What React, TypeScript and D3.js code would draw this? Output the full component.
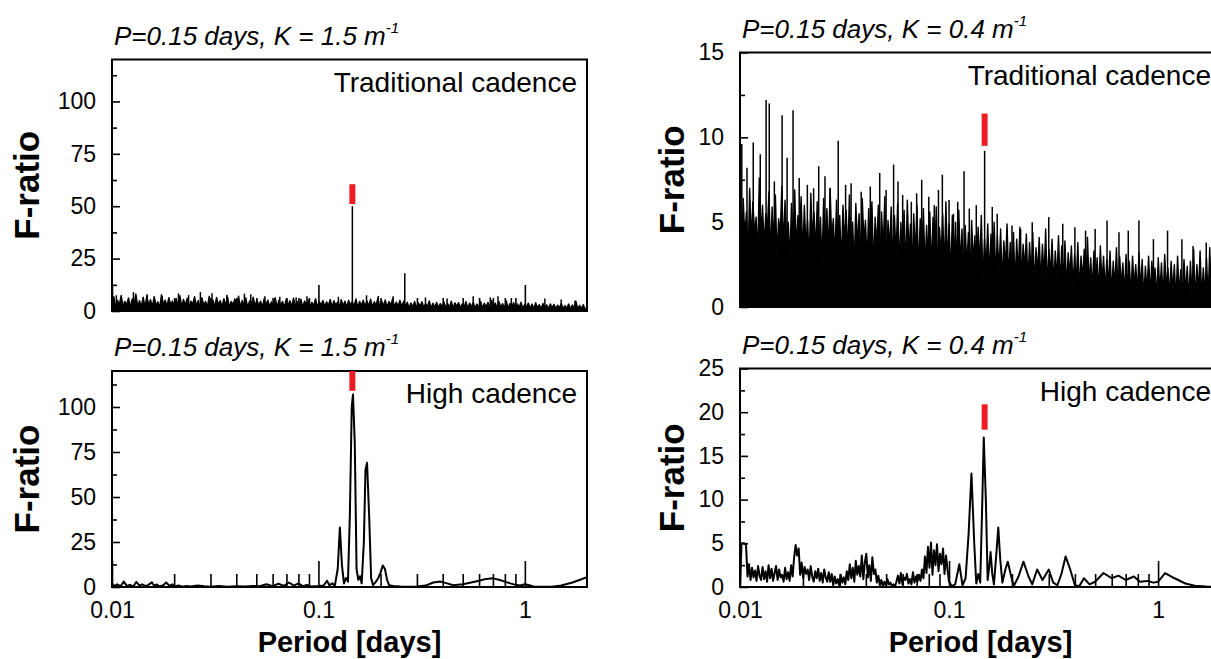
import React, { useEffect, useRef } from 'react';
import * as d3 from 'd3';

// period axis shared by all four panels
const PERIOD_DOMAIN: [number, number] = [0.01, 2];
const X_MAJOR = [0.01, 0.1, 1];
const X_MINOR = [0.02, 0.03, 0.04, 0.05, 0.06, 0.07, 0.08, 0.09, 0.2, 0.3, 0.4, 0.5, 0.6, 0.7, 0.8, 0.9];

// top-left: traditional cadence, K = 1.5 (values on an even log grid 0.01 -> 2)
const tradK15Noise = [
  2.6, 6.8, 1.9, 5.1, 3.0, 7.4, 2.2, 4.6, 2.8, 6.2, 1.7, 5.8, 3.2, 8.1, 2.4, 4.9, 2.1, 6.6, 1.8, 7.2,
  2.9, 5.4, 2.0, 6.9, 2.7, 4.4, 1.6, 7.8, 3.1, 5.2, 2.3, 6.4, 3.0, 4.8, 1.9, 6.0, 2.5, 7.3, 2.1, 5.5,
  2.8, 6.1, 1.8, 4.7, 3.2, 6.8, 2.4, 5.0, 1.7, 6.3, 2.9, 4.5, 2.0, 7.0, 2.6, 5.3, 1.9, 6.5, 3.0, 4.9,
  2.1, 5.9, 2.7, 6.7, 1.8, 4.6, 3.0, 5.8, 2.3, 7.1, 1.9, 5.0, 2.8, 6.2, 1.6, 4.8, 3.1, 6.6, 2.2, 5.4,
  2.5, 4.7, 1.8, 6.0, 2.9, 5.2, 2.1, 4.4, 3.0, 6.3, 1.9, 5.1, 2.6, 4.6, 1.7, 5.7, 2.8, 4.9, 2.2, 6.1,
  2.0, 4.5, 2.7, 5.6, 1.7, 4.8, 2.9, 5.3, 2.1, 4.2, 2.5, 5.9, 1.8, 4.6, 2.8, 5.0, 2.2, 4.4, 2.6, 5.5,
  1.9, 4.9, 2.8, 4.3, 2.1, 5.4, 2.5, 4.7, 1.8, 5.1, 2.7, 4.5, 2.2, 5.8, 1.7, 4.6, 2.6, 5.2, 2.0, 4.8,
  2.4, 5.6, 1.9, 4.4, 2.8, 6.2, 2.0, 4.9, 2.5, 5.3, 1.8, 4.6, 2.7, 5.9, 2.1, 4.3, 2.3, 5.1, 1.9, 4.7,
  2.2, 4.2, 1.6, 3.8, 2.0, 4.6, 1.5, 3.9, 2.3, 4.4, 1.7, 3.6, 2.1, 4.8, 1.4, 3.7, 1.9, 4.1, 1.6, 3.5,
  2.1, 4.3, 1.5, 3.6, 1.8, 4.7, 1.4, 3.9, 2.2, 4.0, 1.6, 3.4, 2.0, 4.5, 1.3, 3.8, 2.0, 4.2, 1.5, 3.3,
  1.8, 4.6, 1.3, 3.7, 2.0, 4.1, 1.5, 5.0, 1.7, 3.8, 1.2, 4.4, 1.9, 3.5, 1.4, 4.8, 1.3, 3.6, 1.9, 4.0,
  1.4, 3.4, 1.7, 4.2, 1.2, 3.1, 1.8, 3.8, 1.3, 3.3, 1.1, 4.0, 1.6, 3.0, 1.2, 3.6, 1.7, 2.9, 1.1, 3.4,
  1.5, 3.2, 1.0, 2.8, 1.6, 3.5, 1.1, 2.6, 1.4, 3.3, 0.9, 2.9, 1.3, 4.6, 1.0, 2.7, 1.2, 3.0, 0.8, 1.5,
];
const tradK15Spikes: [number, number][] = [
  [0.0105, 7.5], [0.0127, 9], [0.0148, 8.0], [0.0175, 7.2], [0.021, 8.4], [0.0235, 7.6],
  [0.0268, 9], [0.0305, 8.5], [0.036, 7.8], [0.0438, 8.3], [0.047, 8.0], [0.055, 7.0],
  [0.065, 6.8], [0.078, 6.5], [0.088, 7.0], [0.125, 6.8], [0.146, 50], [0.171, 7.5],
  [0.195, 7.2], [0.23, 7], [0.262, 18], [0.33, 6.5], [0.42, 6.0], [0.562, 7], [0.68, 6.5],
  [0.741, 7], [0.86, 6.2], [1.25, 6.0], [1.5, 5.5], [1.75, 5.0],
];

// top-right: traditional cadence, K = 0.4
const tradK04Noise = [
  7.3, 3.2, 6.4, 4.1, 5.6, 2.8, 7.0, 3.9, 6.2, 4.4, 5.3, 3.0, 7.6, 4.2, 6.0, 3.5, 5.5, 4.6, 6.8, 3.1,
  5.9, 3.8, 6.6, 2.9, 5.2, 4.3, 7.1, 3.4, 6.3, 4.0, 5.0, 2.7, 6.1, 3.9, 6.9, 3.3, 5.4, 4.5, 6.5, 3.0,
  6.0, 3.6, 5.1, 2.6, 6.7, 4.1, 5.6, 3.2, 6.2, 3.9, 5.3, 2.5, 6.4, 3.7, 5.8, 3.1, 7.0, 4.0, 5.2, 2.8,
  6.3, 3.4, 5.4, 2.4, 6.0, 3.8, 5.7, 2.9, 6.6, 3.5, 5.0, 2.3, 6.1, 3.6, 5.5, 2.7, 6.4, 3.9, 5.1, 2.5,
  5.8, 3.1, 6.2, 2.2, 5.3, 3.5, 6.0, 2.6, 5.6, 3.3, 6.5, 2.1, 5.1, 3.4, 5.9, 2.5, 5.4, 3.0, 6.1, 2.4,
  5.0, 2.8, 5.7, 2.0, 6.3, 3.2, 4.9, 2.3, 5.5, 3.0, 6.0, 1.9, 5.2, 2.9, 5.8, 2.2, 4.8, 2.7, 5.6, 2.1,
  5.3, 2.5, 5.9, 1.8, 4.7, 2.9, 5.5, 2.1, 6.2, 2.6, 4.9, 1.7, 5.4, 2.8, 5.0, 2.0, 5.7, 2.4, 4.6, 1.9,
  4.8, 2.3, 4.4, 1.6, 5.1, 2.6, 4.2, 1.8, 4.7, 2.4, 5.4, 1.5, 4.0, 2.2, 4.9, 1.7, 4.3, 2.5, 5.0, 1.6,
  4.2, 2.0, 4.6, 1.4, 3.9, 2.3, 4.9, 1.6, 3.8, 2.1, 4.4, 1.3, 4.0, 1.9, 4.7, 1.5, 3.7, 2.2, 4.3, 1.4,
  3.8, 1.8, 4.4, 1.2, 3.5, 2.0, 4.1, 1.4, 3.7, 1.7, 4.6, 1.1, 3.4, 1.9, 4.0, 1.3, 3.3, 1.6, 4.2, 1.2,
  3.6, 1.5, 3.9, 1.0, 3.2, 1.8, 3.6, 1.2, 3.1, 1.4, 3.8, 0.9, 3.0, 1.6, 3.4, 1.1, 4.1, 1.3, 2.9, 1.0,
  3.3, 1.2, 2.9, 0.8, 3.6, 1.4, 3.0, 0.9, 2.8, 1.3, 3.3, 0.7, 2.7, 1.1, 3.5, 0.8, 3.0, 1.2, 2.6, 0.7,
  3.1, 1.0, 2.7, 0.6, 3.0, 1.2, 2.5, 0.7, 3.2, 1.0, 2.8, 0.5, 2.4, 0.9, 3.0, 0.6, 2.7, 1.1, 2.3, 0.5,
  2.9, 0.8, 2.6, 0.4, 3.1, 1.0, 2.3, 0.6, 2.7, 0.9, 2.5, 0.3, 3.0, 0.7, 2.2, 0.5, 2.8, 0.8, 2.4, 0.4,
  2.7, 0.6, 3.4, 0.3, 2.5, 0.9, 3.3, 0.5, 2.3, 0.7, 2.9, 0.4, 3.5, 0.6, 2.6, 0.3, 3.1, 0.7, 2.4, 0.5,
];
const tradK04Spikes: [number, number][] = [
  [0.0102, 9.6], [0.0108, 8.2], [0.01157, 9.7], [0.0125, 9.0], [0.01333, 12.2], [0.0138, 12.0],
  [0.0146, 7.4], [0.0159, 11.3], [0.0168, 8.8], [0.01794, 11.6], [0.0192, 7.6], [0.021, 7.2],
  [0.0225, 7.0], [0.0238, 8.3], [0.0255, 7.7], [0.027, 7.0], [0.0295, 9.8], [0.032, 7.2],
  [0.034, 7.3], [0.038, 6.8], [0.042, 7.1], [0.0466, 7.9], [0.05, 6.9], [0.0543, 8.4],
  [0.057, 7.4], [0.06, 6.6], [0.066, 6.2], [0.07, 6.7], [0.074, 7.5], [0.08, 6.5], [0.085, 6.0],
  [0.089, 6.9], [0.0929, 7.8], [0.1, 6.3], [0.105, 5.5], [0.11, 6.2], [0.118, 8.0], [0.125, 5.8],
  [0.135, 6.0], [0.148, 9.2], [0.161, 5.9], [0.17, 5.5], [0.2, 4.8], [0.22, 4.6], [0.25, 5.0],
  [0.3, 5.3], [0.35, 4.9], [0.4, 4.7], [0.45, 4.5], [0.5, 4.6], [0.57, 5.1], [0.65, 4.4],
  [0.72, 4.5], [0.81, 5.1], [0.95, 4.0], [1.11, 4.5], [1.3, 4.0], [1.47, 3.6], [1.7, 3.8],
];

// bottom-left: high cadence, K = 1.5 ([period, F])
const highK15Curve: [number, number][] = [
  [0.01, 2.0], [0.0103, 0.5], [0.0106, 1.5], [0.011, 0.4], [0.0114, 3.0], [0.0118, 0.6],
  [0.0122, 1.2], [0.0127, 0.3], [0.0131, 2.8], [0.0136, 0.8], [0.014, 1.5], [0.0146, 0.5],
  [0.015, 1.2], [0.0156, 2.6], [0.016, 0.7], [0.0165, 1.4], [0.017, 0.3], [0.0177, 1.0],
  [0.0183, 2.5], [0.019, 0.6], [0.0196, 1.5], [0.02, 0.3], [0.021, 0.8], [0.022, 0.2],
  [0.023, 0.6], [0.024, 0.3], [0.026, 0.9], [0.028, 0.4], [0.03, 0.2], [0.033, 0.5],
  [0.036, 0.2], [0.04, 0.4], [0.044, 0.3], [0.048, 0.6], [0.052, 0.4], [0.056, 1.5],
  [0.06, 0.5], [0.064, 1.8], [0.068, 0.6], [0.072, 2.5], [0.076, 0.8], [0.08, 2.0],
  [0.084, 0.5], [0.088, 1.2], [0.092, 0.3], [0.1, 0.5], [0.106, 0.8], [0.11, 3.5],
  [0.113, 1.0], [0.117, 2.0], [0.12, 0.5], [0.124, 10], [0.127, 33], [0.13, 12],
  [0.133, 2], [0.136, 5], [0.139, 3], [0.142, 40], [0.145, 100], [0.147, 107],
  [0.15, 80], [0.153, 10], [0.156, 4], [0.159, 6], [0.162, 2], [0.166, 25], [0.169, 65],
  [0.172, 69], [0.176, 40], [0.18, 5], [0.184, 1], [0.19, 3], [0.195, 5], [0.2, 8],
  [0.205, 12], [0.21, 10], [0.215, 4], [0.22, 1], [0.23, 0.5], [0.25, 0.3], [0.28, 0.2],
  [0.3, 0.3], [0.33, 0.8], [0.36, 2.5], [0.39, 3.0], [0.42, 2], [0.45, 1.0], [0.5, 1.5],
  [0.55, 2.5], [0.6, 3.5], [0.65, 4.5], [0.7, 4.8], [0.75, 4.0], [0.8, 3.0], [0.85, 2.0],
  [0.9, 1.2], [0.95, 0.8], [1.0, 1.5], [1.05, 1.0], [1.1, 0.3], [1.2, 0.1], [1.35, 0.2],
  [1.5, 0.8], [1.7, 2.5], [1.85, 4.0], [2.0, 5.5],
];

// bottom-right: high cadence, K = 0.4 (noisy part on a log grid 0.01 -> 0.1, then [period, F])
const highK04Noise = [
  0.0, 5.0, 5.0, 5.0, 4.8, 1.2, 2.6, 0.8, 2.2, 1.1, 1.9, 0.7, 2.4, 1.3, 0.8, 2.3, 0.9, 1.8, 0.6, 2.5,
  1.0, 2.1, 0.7, 1.6, 2.4, 0.8, 2.0, 1.1, 1.4, 0.6, 2.2, 0.9, 1.7, 0.7, 2.5, 1.2, 3.4, 4.8, 3.6, 4.4,
  1.4, 2.8, 1.0, 2.3, 1.5, 2.0, 0.8, 2.4, 1.2, 0.6, 1.8, 1.0, 2.1, 0.7, 1.6, 0.5, 2.0, 1.1, 0.6, 1.7,
  0.6, 1.5, 0.2, 1.2, 0.4, 0.9, 0.2, 1.4, 0.5, 1.1, 0.3, 1.8, 0.8, 2.6, 1.0, 2.2, 0.6, 3.0, 1.4, 2.4,
  1.2, 3.6, 0.9, 2.8, 3.8, 1.1, 2.5, 0.7, 3.4, 1.5, 2.0, 0.5, 1.3, 0.2, 0.8, 0.1, 0.6, 0.2, 0.9, 0.3,
  0.5, 0.1, 0.3, 0.0, 0.6, 1.3, 0.4, 1.6, 0.3, 1.1, 0.8, 1.5, 0.4, 0.9, 0.3, 1.7, 0.5, 1.2, 0.6, 1.4,
  0.7, 2.0, 1.0, 3.5, 1.6, 4.6, 2.2, 5.1, 1.4, 4.2, 2.5, 4.9, 1.8, 3.8, 2.6, 4.4, 1.5, 3.6, 2.0, 0.6,
];
const highK04Curve: [number, number][] = [
  [0.103, 0.1], [0.107, 0.3], [0.112, 2.6], [0.116, 0.2], [0.12, 1.0], [0.124, 6], [0.128, 13.0],
  [0.132, 5], [0.135, 0.4], [0.138, 1.5], [0.141, 0.5], [0.144, 9], [0.1466, 17.1], [0.15, 10],
  [0.153, 0.8], [0.156, 2.5], [0.158, 4.0], [0.161, 1.5], [0.164, 0.3], [0.168, 3.5], [0.172, 6.8],
  [0.176, 3.0], [0.18, 0.5], [0.186, 2.0], [0.191, 2.9], [0.197, 1.5], [0.204, 0.1], [0.215, 1.2],
  [0.227, 2.9], [0.24, 1.2], [0.25, 0.3], [0.264, 2.0], [0.28, 0.8], [0.3, 2.0], [0.315, 0.5],
  [0.33, 0.2], [0.345, 1.5], [0.361, 3.5], [0.38, 2.0], [0.4, 0.2], [0.42, 0.1], [0.442, 1.0],
  [0.47, 0.3], [0.5, 0.6], [0.548, 1.6], [0.6, 1.0], [0.646, 1.3], [0.7, 0.8], [0.766, 1.2],
  [0.82, 0.6], [0.89, 0.7], [0.95, 0.5], [1.0, 0.6], [1.08, 1.6], [1.2, 1.0], [1.35, 0.4],
  [1.5, 0.15], [1.7, 0.05], [2.0, 0.0],
];

// red bars marking the injected period: [period, from, to]
const markK15Trad: [number, number, number] = [0.146, 51, 60.5];
const markK04Trad: [number, number, number] = [0.148, 9.5, 11.4];
const markK15High: [number, number, number] = [0.146, 109, 120];
const markK04High: [number, number, number] = [0.148, 18, 20.9];

const logGrid = (n: number, from: number, to: number) =>
  d3.range(n).map(i => from * Math.pow(to / from, i / (n - 1)));

const FONT = '"Liberation Sans", Arial, Helvetica, sans-serif';

interface Panel {
  x0: number; x1: number; y0: number; y1: number;
  yMax: number; yMajor: number[]; yMinor: number[];
  k: string; label: string;
  series: [number, number][];
  spikes: [number, number][];
  mark: [number, number, number];
  lineWidth: number;
  dense: boolean;
  xLabels: boolean;
  yTitleX: number;
}

const panels: Panel[] = [
  {
    x0: 112, x1: 587, y0: 59.5, y1: 311, yMax: 120,
    yMajor: [0, 25, 50, 75, 100], yMinor: [12.5, 37.5, 62.5, 87.5, 112.5],
    k: '1.5', label: 'Traditional cadence',
    series: logGrid(tradK15Noise.length, 0.01, 2).map((p, i) => [p, tradK15Noise[i]] as [number, number]),
    spikes: tradK15Spikes, mark: markK15Trad, lineWidth: 1.4, dense: true, xLabels: false, yTitleX: 39,
  },
  {
    x0: 740, x1: 1221, y0: 52.5, y1: 307, yMax: 15,
    yMajor: [0, 5, 10, 15], yMinor: [2.5, 7.5, 12.5],
    k: '0.4', label: 'Traditional cadence',
    series: logGrid(tradK04Noise.length, 0.01, 2).map((p, i) => [p, tradK04Noise[i]] as [number, number]),
    spikes: tradK04Spikes, mark: markK04Trad, lineWidth: 1.4, dense: true, xLabels: false, yTitleX: 684,
  },
  {
    x0: 112, x1: 587, y0: 371, y1: 587, yMax: 120,
    yMajor: [0, 25, 50, 75, 100], yMinor: [12.5, 37.5, 62.5, 87.5, 112.5],
    k: '1.5', label: 'High cadence',
    series: highK15Curve, spikes: [], mark: markK15High, lineWidth: 2, dense: false, xLabels: true, yTitleX: 39,
  },
  {
    x0: 740, x1: 1221, y0: 368.5, y1: 587, yMax: 25,
    yMajor: [0, 5, 10, 15, 20, 25], yMinor: [2.5, 7.5, 12.5, 17.5, 22.5],
    k: '0.4', label: 'High cadence',
    series: (logGrid(highK04Noise.length, 0.01, 0.1).map((p, i) => [p, highK04Noise[i]] as [number, number]))
      .concat(highK04Curve),
    spikes: [], mark: markK04High, lineWidth: 2, dense: false, xLabels: true, yTitleX: 684,
  },
];

const App = () => {
  const ref = useRef<SVGSVGElement>(null);

  useEffect(() => {
    if (!ref.current) return;
    const svg = d3.select(ref.current);
    svg.selectAll('*').remove();

    panels.forEach(p => {
      const x = d3.scaleLog().domain(PERIOD_DOMAIN).range([p.x0, p.x1]);
      const y = d3.scaleLinear().domain([0, p.yMax]).range([p.y1, p.y0]);
      const g = svg.append('g');

      const line = d3.line<[number, number]>()
        .x(d => x(d[0]))
        .y(d => y(d[1]));

      // the traditional-cadence periodograms are so dense they read as a filled band
      if (p.dense) {
        const area = d3.area<[number, number]>()
          .x(d => x(d[0]))
          .y0(y(0))
          .y1(d => y(d[1]));
        g.append('path')
          .datum(p.series)
          .attr('fill', '#000')
          .attr('d', area);
      }

      g.append('path')
        .datum(p.series)
        .attr('fill', 'none')
        .attr('stroke', '#000')
        .attr('stroke-width', p.lineWidth)
        .attr('stroke-linejoin', 'round')
        .attr('d', line);

      g.selectAll('line.spike')
        .data(p.spikes)
        .join('line')
        .attr('class', 'spike')
        .attr('x1', d => x(d[0])).attr('x2', d => x(d[0]))
        .attr('y1', y(0)).attr('y2', d => y(d[1]))
        .attr('stroke', '#000')
        .attr('stroke-width', 1.5);

      // ticks point into the frame
      const styleAxis = (sel: any) => {
        sel.select('.domain').remove();
        sel.selectAll('line').attr('stroke', '#000').attr('stroke-width', 1.6);
        sel.selectAll('text').attr('font-family', FONT).attr('font-size', 23).attr('fill', '#000');
      };

      g.append('g')
        .attr('transform', `translate(${p.x0},0)`)
        .call(d3.axisLeft(y).tickValues(p.yMajor).tickSize(-8).tickPadding(16).tickFormat(d3.format('d')))
        .call(styleAxis);
      g.append('g')
        .attr('transform', `translate(${p.x0},0)`)
        .call(d3.axisLeft(y).tickValues(p.yMinor).tickSize(-5).tickFormat(() => ''))
        .call(styleAxis);

      g.append('g')
        .attr('transform', `translate(0,${p.y1})`)
        .call(d3.axisBottom(x).tickValues(X_MAJOR).tickSize(-26).tickPadding(15)
          .tickFormat(d => (p.xLabels ? d3.format('~g')(d as number) : '')))
        .call(styleAxis);
      g.append('g')
        .attr('transform', `translate(0,${p.y1})`)
        .call(d3.axisBottom(x).tickValues(X_MINOR).tickSize(-13).tickFormat(() => ''))
        .call(styleAxis);

      g.append('rect')
        .attr('x', p.x0).attr('y', p.y0)
        .attr('width', p.x1 - p.x0).attr('height', p.y1 - p.y0)
        .attr('fill', 'none')
        .attr('stroke', '#000')
        .attr('stroke-width', 2);

      g.append('line')
        .attr('x1', x(p.mark[0])).attr('x2', x(p.mark[0]))
        .attr('y1', y(p.mark[1])).attr('y2', y(p.mark[2]))
        .attr('stroke', '#ee1c25')
        .attr('stroke-width', 6);

      // panel title
      const title = g.append('text')
        .attr('x', p.x0 + 2)
        .attr('y', p.y0 - 15)
        .attr('font-family', FONT)
        .attr('font-style', 'italic')
        .attr('font-size', 26)
        .attr('fill', '#000');
      title.append('tspan').text(`P=0.15 days, K = ${p.k} m`);
      title.append('tspan').attr('font-size', 15).attr('dy', -12).text('-1');

      g.append('text')
        .attr('x', p.x1 - 10)
        .attr('y', p.y0 + 32)
        .attr('text-anchor', 'end')
        .attr('font-family', FONT)
        .attr('font-size', 28)
        .attr('fill', '#000')
        .text(p.label);

      g.append('text')
        .attr('transform', `translate(${p.yTitleX},${(p.y0 + p.y1) / 2}) rotate(-90)`)
        .attr('text-anchor', 'middle')
        .attr('font-family', FONT)
        .attr('font-weight', 'bold')
        .attr('font-size', 35)
        .attr('fill', '#000')
        .text('F-ratio');

      if (p.xLabels) {
        g.append('text')
          .attr('x', (p.x0 + p.x1) / 2)
          .attr('y', 652)
          .attr('text-anchor', 'middle')
          .attr('font-family', FONT)
          .attr('font-weight', 'bold')
          .attr('font-size', 29)
          .attr('fill', '#000')
          .text('Period [days]');
      }
    });
  }, []);

  return (
    <svg
      ref={ref}
      width={1211}
      height={659}
      style={{ position: 'absolute', left: 0, top: 0, background: '#fff' }}
    />
  );
};

export default App;
